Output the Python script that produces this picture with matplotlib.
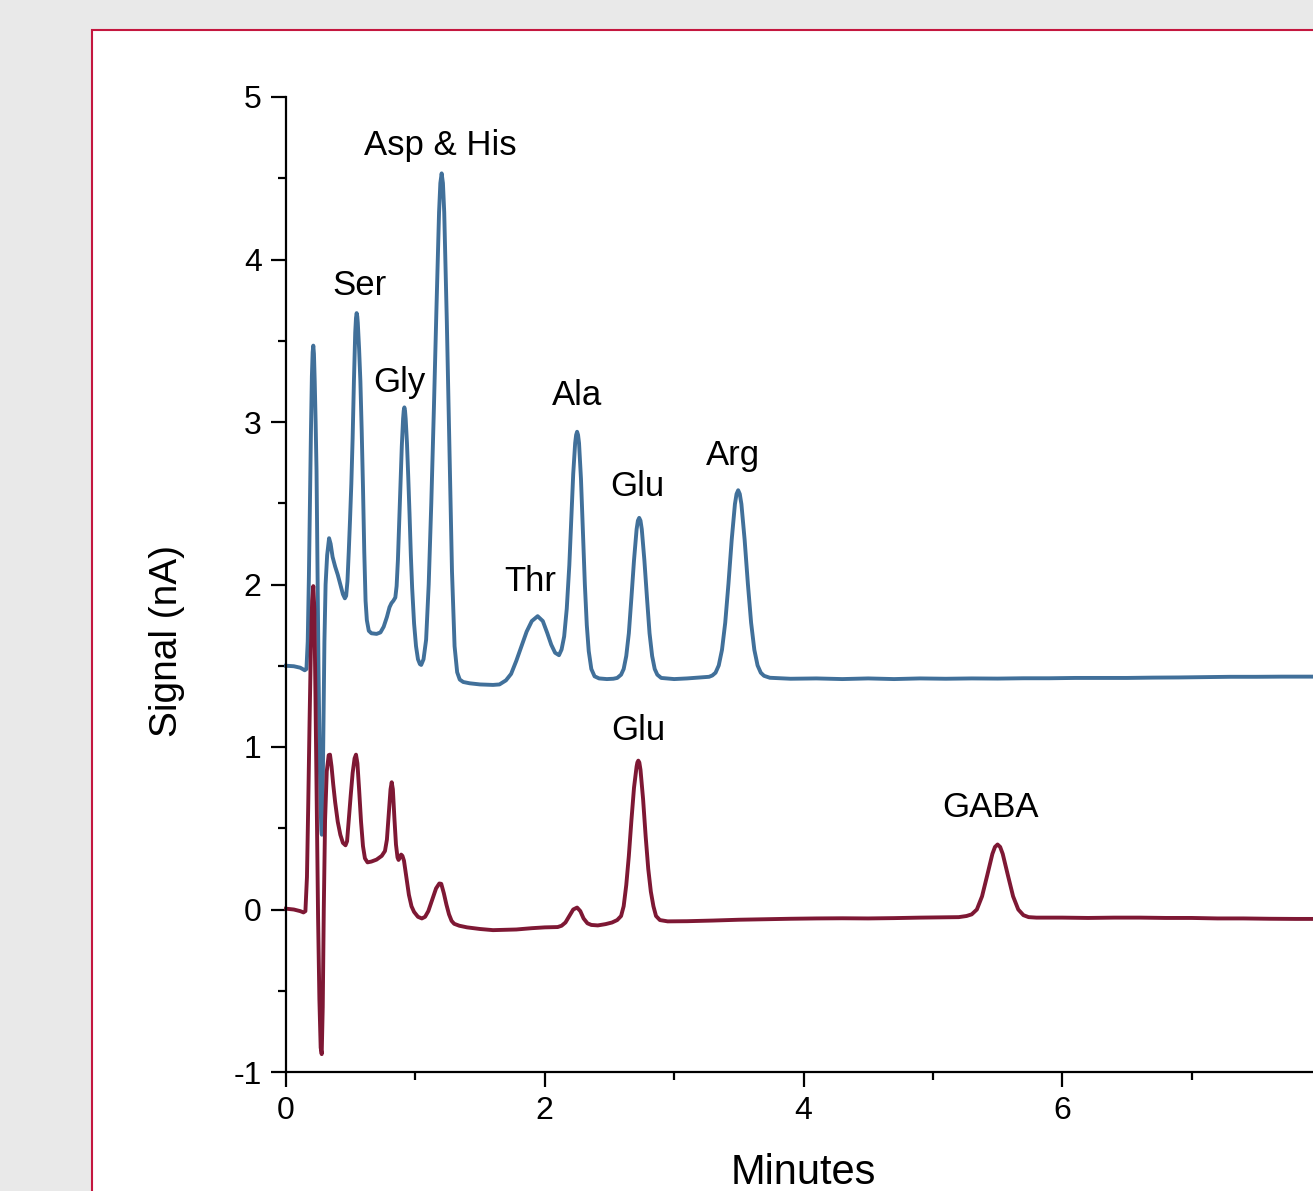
import matplotlib
matplotlib.use("Agg")
import matplotlib.pyplot as plt
from matplotlib.patches import Rectangle
from matplotlib.ticker import MultipleLocator

# ===== CONFIG =====
OUT_FILE = "out.png"
FIG_W_PX, FIG_H_PX, DPI = 1313, 1191, 100
STD_COLOR = "#41709a"
SAMPLE_COLOR = "#7e1834"
FRAME_COLOR = "#c4173f"
PAGE_GREY = "#e9e9e9"
FONT = ["Liberation Sans", "DejaVu Sans"]

# ===== DATA =====
# upper trace: amino acid standard (minutes, nA)
STD_TIME = [
    0.000, 0.060, 0.110, 0.145, 0.158, 0.168, 0.177, 0.185, 0.193, 0.200,
    0.206, 0.211, 0.216, 0.222, 0.229, 0.236, 0.243, 0.251, 0.259, 0.267,
    0.273, 0.277, 0.282, 0.289, 0.297, 0.306, 0.318, 0.333, 0.345, 0.360,
    0.380, 0.400, 0.420, 0.440, 0.455, 0.465, 0.475, 0.485, 0.495, 0.505,
    0.515, 0.525, 0.535, 0.541, 0.546, 0.551, 0.555, 0.565, 0.575, 0.585,
    0.595, 0.605, 0.615, 0.625, 0.640, 0.660, 0.700, 0.730, 0.755, 0.780,
    0.800, 0.815, 0.830, 0.845, 0.855, 0.865, 0.875, 0.885, 0.895, 0.905,
    0.910, 0.915, 0.920, 0.925, 0.935, 0.945, 0.955, 0.965, 0.975, 0.990,
    1.005, 1.020, 1.035, 1.045, 1.063, 1.083, 1.103, 1.123, 1.143, 1.163,
    1.183, 1.193, 1.203, 1.213, 1.223, 1.243, 1.263, 1.283, 1.303, 1.323,
    1.343, 1.370, 1.420, 1.500, 1.600, 1.650, 1.700, 1.740, 1.780, 1.820,
    1.860, 1.900, 1.945, 1.985, 2.020, 2.050, 2.080, 2.110, 2.130, 2.150,
    2.170, 2.190, 2.205, 2.220, 2.235, 2.2425, 2.250, 2.2575, 2.265, 2.280,
    2.295, 2.310, 2.325, 2.340, 2.360, 2.385, 2.420, 2.480, 2.530, 2.560,
    2.590, 2.610, 2.630, 2.650, 2.670, 2.690, 2.710, 2.720, 2.730, 2.740,
    2.750, 2.770, 2.790, 2.810, 2.830, 2.850, 2.870, 2.900, 3.000, 3.100,
    3.200, 3.270, 3.295, 3.320, 3.345, 3.370, 3.395, 3.420, 3.445, 3.470,
    3.4825, 3.495, 3.5075, 3.520, 3.545, 3.570, 3.595, 3.620, 3.645, 3.670,
    3.695, 3.740, 3.900, 4.100, 4.300, 4.500, 4.700, 4.900, 5.100, 5.300,
    5.500, 5.700, 5.900, 6.100, 6.300, 6.500, 6.700, 6.900, 7.100, 7.300,
    7.500, 7.700, 7.900, 8.000,
]
STD_SIGNAL = [
    1.500, 1.497, 1.488, 1.472, 1.480, 1.650, 2.050, 2.500, 2.950, 3.280,
    3.430, 3.470, 3.420, 3.250, 3.000, 2.700, 2.150, 1.500, 1.000, 0.650,
    0.490, 0.460, 0.620, 1.100, 1.650, 2.000, 2.180, 2.285, 2.250, 2.170,
    2.110, 2.060, 2.000, 1.940, 1.915, 1.930, 2.020, 2.200, 2.400, 2.620,
    2.900, 3.250, 3.550, 3.640, 3.670, 3.650, 3.610, 3.450, 3.250, 2.950,
    2.600, 2.200, 1.900, 1.780, 1.715, 1.700, 1.696, 1.705, 1.740, 1.800,
    1.860, 1.885, 1.900, 1.920, 1.990, 2.150, 2.380, 2.620, 2.850, 3.020,
    3.070, 3.090, 3.070, 3.020, 2.870, 2.660, 2.430, 2.180, 1.980, 1.760,
    1.620, 1.540, 1.510, 1.505, 1.540, 1.660, 2.000, 2.500, 3.080, 3.700,
    4.290, 4.470, 4.530, 4.470, 4.290, 3.620, 2.850, 2.080, 1.620, 1.460,
    1.415, 1.400, 1.392, 1.385, 1.382, 1.385, 1.410, 1.450, 1.530, 1.620,
    1.710, 1.775, 1.805, 1.775, 1.700, 1.630, 1.580, 1.565, 1.600, 1.680,
    1.850, 2.120, 2.400, 2.680, 2.870, 2.920, 2.940, 2.920, 2.870, 2.650,
    2.330, 2.000, 1.750, 1.590, 1.480, 1.435, 1.422, 1.418, 1.420, 1.425,
    1.445, 1.480, 1.560, 1.700, 1.920, 2.150, 2.340, 2.393, 2.410, 2.393,
    2.340, 2.150, 1.920, 1.700, 1.560, 1.480, 1.445, 1.425, 1.418, 1.422,
    1.428, 1.432, 1.440, 1.457, 1.502, 1.598, 1.765, 2.005, 2.275, 2.495,
    2.557, 2.580, 2.557, 2.495, 2.275, 2.005, 1.765, 1.598, 1.502, 1.457,
    1.438, 1.426, 1.420, 1.422, 1.418, 1.422, 1.418, 1.422, 1.420, 1.422,
    1.421, 1.423, 1.423, 1.425, 1.425, 1.425, 1.427, 1.428, 1.430, 1.432,
    1.432, 1.433, 1.433, 1.433,
]

# lower trace: sample (minutes, nA)
SAMPLE_TIME = [
    0.000, 0.060, 0.110, 0.135, 0.150, 0.162, 0.172, 0.182, 0.192, 0.202,
    0.211, 0.219, 0.228, 0.238, 0.248, 0.258, 0.268, 0.276, 0.284, 0.292,
    0.302, 0.315, 0.330, 0.340, 0.352, 0.365, 0.380, 0.400, 0.420, 0.440,
    0.460, 0.472, 0.485, 0.500, 0.515, 0.530, 0.541, 0.552, 0.565, 0.580,
    0.595, 0.610, 0.630, 0.660, 0.700, 0.740, 0.765, 0.780, 0.795, 0.808,
    0.817, 0.826, 0.838, 0.850, 0.862, 0.870, 0.880, 0.890, 0.900, 0.912,
    0.930, 0.950, 0.970, 0.990, 1.020, 1.050, 1.075, 1.100, 1.130, 1.160,
    1.185, 1.200, 1.220, 1.240, 1.260, 1.280, 1.300, 1.340, 1.400, 1.500,
    1.600, 1.700, 1.780, 1.900, 2.000, 2.100, 2.130, 2.160, 2.190, 2.220,
    2.250, 2.275, 2.300, 2.330, 2.360, 2.410, 2.470, 2.520, 2.560, 2.590,
    2.610, 2.630, 2.650, 2.670, 2.690, 2.710, 2.716, 2.723, 2.731, 2.740,
    2.760, 2.780, 2.800, 2.820, 2.840, 2.860, 2.890, 2.950, 3.100, 3.300,
    3.500, 3.700, 3.900, 4.100, 4.300, 4.500, 4.700, 4.900, 5.100, 5.200,
    5.260, 5.300, 5.340, 5.380, 5.420, 5.460, 5.480, 5.500, 5.520, 5.540,
    5.580, 5.620, 5.660, 5.700, 5.740, 5.800, 6.000, 6.200, 6.400, 6.600,
    6.800, 7.000, 7.200, 7.400, 7.600, 7.800, 8.000,
]
SAMPLE_SIGNAL = [
    0.005, 0.000, -0.010, -0.018, -0.010, 0.200, 0.650, 1.150, 1.600, 1.900,
    1.990, 1.850, 1.300, 0.600, -0.050, -0.550, -0.850, -0.890, -0.600, 0.000,
    0.550, 0.850, 0.950, 0.953, 0.880, 0.770, 0.660, 0.540, 0.460, 0.410,
    0.395, 0.420, 0.550, 0.700, 0.840, 0.930, 0.953, 0.900, 0.740, 0.540,
    0.390, 0.315, 0.290, 0.295, 0.307, 0.330, 0.360, 0.430, 0.600, 0.740,
    0.783, 0.740, 0.560, 0.400, 0.320, 0.305, 0.320, 0.338, 0.330, 0.300,
    0.200, 0.090, 0.020, -0.015, -0.045, -0.055, -0.045, -0.010, 0.060, 0.130,
    0.160, 0.158, 0.100, 0.030, -0.030, -0.070, -0.088, -0.100, -0.110, -0.120,
    -0.127, -0.125, -0.123, -0.115, -0.110, -0.108, -0.100, -0.080, -0.040, 0.000,
    0.012, -0.010, -0.055, -0.085, -0.095, -0.098, -0.090, -0.080, -0.065, -0.040,
    0.020, 0.150, 0.330, 0.550, 0.750, 0.880, 0.905, 0.916, 0.905, 0.860,
    0.680, 0.450, 0.250, 0.110, 0.020, -0.040, -0.065, -0.073, -0.072, -0.068,
    -0.063, -0.060, -0.057, -0.055, -0.054, -0.055, -0.053, -0.050, -0.048, -0.047,
    -0.040, -0.030, 0.000, 0.081, 0.210, 0.342, 0.385, 0.400, 0.385, 0.342,
    0.210, 0.081, 0.000, -0.035, -0.047, -0.050, -0.050, -0.052, -0.050, -0.050,
    -0.052, -0.052, -0.055, -0.055, -0.057, -0.058, -0.058,
]

# peak names and where they sit (minutes, nA)
STD_PEAKS = ["Ser", "Gly", "Asp & His", "Thr", "Ala", "Glu", "Arg"]
STD_PEAK_T = [0.568, 0.873, 1.194, 1.886, 2.253, 2.713, 3.458]
STD_PEAK_V = [3.782, 3.186, 4.643, 1.958, 3.106, 2.542, 2.737]
SAMPLE_PEAKS = ["Glu", "GABA"]
SAMPLE_PEAK_T = [2.723, 5.448]
SAMPLE_PEAK_V = [1.045, 0.572]

X_TICKS = [0, 2, 4, 6]
X_LABEL = "Minutes"
Y_LABEL = "Signal (nA)"


def px_x(px):
    return px / FIG_W_PX


def px_y(py):
    return 1 - py / FIG_H_PX


def draw():
    plt.rcParams["font.family"] = FONT
    plt.rcParams["axes.unicode_minus"] = False

    fig = plt.figure(figsize=(FIG_W_PX / DPI, FIG_H_PX / DPI), dpi=DPI)
    fig.patch.set_facecolor(PAGE_GREY)

    # white panel with red frame, running off the right and bottom edges
    panel = Rectangle((px_x(92), -0.1), 1.2, px_y(30) + 0.1,
                      transform=fig.transFigure, facecolor="white",
                      edgecolor=FRAME_COLOR, linewidth=1.5, zorder=-1)
    fig.patches.append(panel)

    # axis box: x 0..8 spans 286..1321 px, y -1..5 spans 1072..97 px
    ax = fig.add_axes([px_x(286), px_y(1072), (1321 - 286) / FIG_W_PX,
                       (1072 - 97) / FIG_H_PX])
    ax.set_facecolor("none")

    ax.plot(STD_TIME, STD_SIGNAL, color=STD_COLOR, lw=2.8,
            solid_joinstyle="round", clip_on=False)
    ax.plot(SAMPLE_TIME, SAMPLE_SIGNAL, color=SAMPLE_COLOR, lw=2.8,
            solid_joinstyle="round", clip_on=False)

    for name, t, v in zip(STD_PEAKS, STD_PEAK_T, STD_PEAK_V):
        ax.text(t, v, name, ha="center", va="baseline", fontsize=25)
    for name, t, v in zip(SAMPLE_PEAKS, SAMPLE_PEAK_T, SAMPLE_PEAK_V):
        ax.text(t, v, name, ha="center", va="baseline", fontsize=25)

    ax.set_xlim(0, 8)
    ax.set_ylim(-1, 5)
    ax.set_xticks(X_TICKS)
    ax.xaxis.set_minor_locator(MultipleLocator(1))
    ax.yaxis.set_major_locator(MultipleLocator(1))
    ax.yaxis.set_minor_locator(MultipleLocator(0.5))

    for side in ("top", "right"):
        ax.spines[side].set_visible(False)
    for side in ("left", "bottom"):
        ax.spines[side].set_linewidth(1.6)

    ax.tick_params(which="major", direction="out", length=10.5, width=1.6,
                   labelsize=23, pad=7)
    ax.tick_params(which="minor", direction="out", length=5.5, width=1.6)

    ax.set_xlabel(X_LABEL, fontsize=30, va="baseline")
    ax.xaxis.set_label_coords(0.5, (1072 - 1184) / 975)
    ax.set_ylabel(Y_LABEL, fontsize=28, va="center")
    ax.yaxis.set_label_coords((167 - 286) / 1035, (1072 - 641) / 975)

    fig.savefig(OUT_FILE, dpi=DPI, facecolor=fig.get_facecolor())
    plt.close(fig)


# ===== MAIN =====
if __name__ == "__main__":
    assert len(STD_TIME) == len(STD_SIGNAL)
    assert len(SAMPLE_TIME) == len(SAMPLE_SIGNAL)
    draw()
